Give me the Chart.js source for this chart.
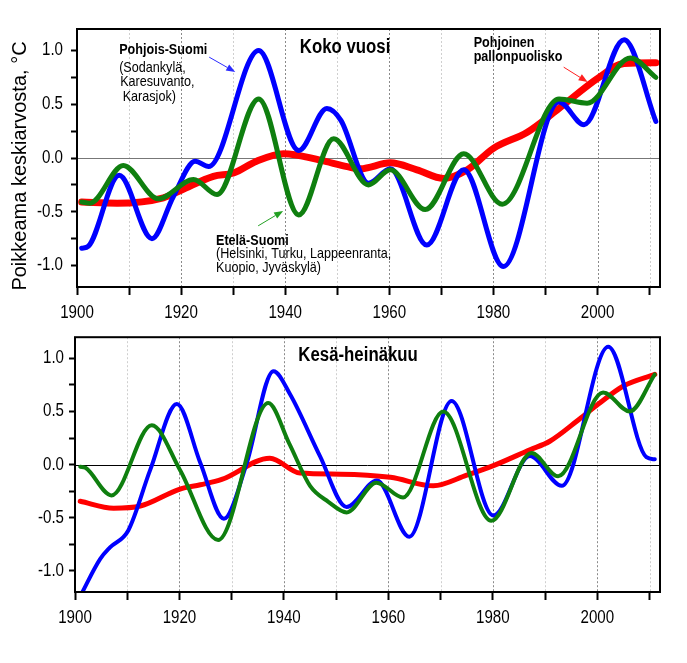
<!DOCTYPE html>
<html><head><meta charset="utf-8">
<script src="https://cdn.jsdelivr.net/npm/chart.js@4.4.1/dist/chart.umd.min.js"></script>
<style>
html,body{margin:0;padding:0;background:#fff;}
#wrap{position:relative;width:687px;height:663px;}
.panel{position:absolute;left:0;width:687px;}
#p1{top:0;height:320px;}
#p2{top:320px;height:343px;}
</style></head><body>
<div id="wrap">
<div class="panel" id="p1"><canvas id="c1" width="687" height="320"></canvas></div>
<div class="panel" id="p2"><canvas id="c2" width="687" height="343"></canvas></div>
</div>
<script>
// ---- tick definitions ----
const xTickYears = [1900,1910,1920,1930,1940,1950,1960,1970,1980,1990,2000,2010];
const xLabelYears = [1900,1920,1940,1960,1980,2000];
const yTickValues = [-1,-0.75,-0.5,-0.25,0,0.25,0.5,0.75,1];
const yLabelValues = [-1,-0.5,0,0.5,1];

// ---- Koko vuosi (annual) ----
const annualNorthYears  = [1900.9,1902.2,1908.1,1914.4,1918.5,1922.7,1925.3,1934.9,1942.6,1948.0,1950.7,1956.0,1960.2,1967.2,1974.3,1981.9,1992.6,1997.4,2005.1,2011.2];
const annualNorthValues = [-0.84,-0.82,-0.16,-0.75,-0.36,-0.03,-0.08,1.0,0.07,0.46,0.35,-0.235,-0.1,-0.81,-0.11,-1.01,0.52,0.31,1.1,0.34];

const annualSouthYears  = [1900.9,1902.5,1908.9,1915.6,1922.4,1926.9,1934.9,1942.6,1949.3,1956.0,1960.2,1966.9,1974.3,1981.7,1992.6,1998.0,2006.3,2011.2];
const annualSouthValues = [-0.41,-0.42,-0.07,-0.38,-0.2,-0.34,0.55,-0.53,0.18,-0.25,-0.11,-0.48,0.04,-0.43,0.55,0.51,0.93,0.75];

const annualNHYears  = [1900.9,1907.7,1916.6,1920.0,1926.2,1930.1,1934.5,1939.7,1946.7,1951.9,1954.4,1960.2,1965.3,1970.4,1975.0,1980.0,1986.5,1992.3,2000.3,2005.1,2011.2];
const annualNHValues = [-0.41,-0.42,-0.37,-0.3,-0.17,-0.14,-0.03,0.04,-0.02,-0.08,-0.1,-0.045,-0.11,-0.19,-0.11,0.09,0.24,0.45,0.75,0.88,0.885];

// ---- Kesä-heinäkuu (June-July) ----
const summerNorthYears  = [1901.0,1904.8,1906.7,1910.2,1914.4,1919.5,1924.0,1928.5,1932.8,1938.0,1941.2,1946.9,1952.0,1957.8,1964.0,1972.1,1980.1,1987.1,1993.2,2002.1,2009.4,2011.0];
const summerNorthValues = [-1.24,-0.89,-0.78,-0.62,-0.05,0.57,0.015,-0.51,0.0,0.88,0.66,0.08,-0.4,-0.15,-0.68,0.6,-0.48,0.08,-0.2,1.11,0.07,0.05];

const summerSouthYears  = [1901.0,1902.0,1907.0,1914.7,1920.1,1927.4,1937.0,1941.0,1945.0,1948.5,1952.0,1957.7,1962.8,1970.5,1979.7,1987.4,1992.5,2001.1,2006.2,2011.0];
const summerSouthValues = [-0.02,-0.03,-0.29,0.37,-0.05,-0.71,0.58,0.2,-0.2,-0.35,-0.45,-0.17,-0.31,0.5,-0.53,0.11,-0.11,0.68,0.5,0.85];

const summerNHYears  = [1901.0,1907.4,1912.5,1920.1,1924.0,1928.1,1937.3,1943.1,1950.8,1960.4,1968.6,1975.0,1980.1,1987.1,1990.9,1996.6,2000.2,2005.0,2011.0];
const summerNHValues = [-0.345,-0.41,-0.39,-0.23,-0.19,-0.14,0.06,-0.08,-0.09,-0.12,-0.2,-0.1,-0.01,0.14,0.22,0.43,0.57,0.74,0.85];

const FONT = "'Liberation Sans',Arial,sans-serif";
const SQUEEZE = 0.84;
const BLUE = '#0000ff', GREEN = '#0f7f0f', RED = '#ff0000';

function pts(xs, ys){ return xs.map((x,i)=>({x:x, y:ys[i]})); }

function narrowText(ctx, text, x, y, font, align){
  ctx.save();
  ctx.translate(x, y);
  ctx.scale(SQUEEZE, 1);
  ctx.font = font;
  ctx.textAlign = align;
  ctx.textBaseline = 'middle';
  ctx.fillStyle = '#000';
  ctx.fillText(text, 0, 0);
  ctx.restore();
}

const decor = {
  id:'decor',
  beforeDatasetsDraw(chart, args, o){
    const {ctx, chartArea:a, scales:{x,y}} = chart;
    ctx.save();
    ctx.lineWidth = 1;
    ctx.setLineDash([2,2]);
    xTickYears.forEach(v=>{
      if (v===1900) return;
      const px = Math.round(x.getPixelForValue(v))+0.5;
      ctx.strokeStyle = (v%20===0) ? '#8a8a8a' : '#cfcfcf';
      ctx.beginPath(); ctx.moveTo(px,a.top); ctx.lineTo(px,a.bottom); ctx.stroke();
    });
    ctx.setLineDash([]);
    ctx.strokeStyle = o.zeroColor;
    const py = Math.round(y.getPixelForValue(0))+0.5;
    ctx.beginPath(); ctx.moveTo(a.left,py); ctx.lineTo(a.right,py); ctx.stroke();
    ctx.restore();
  },
  afterDatasetsDraw(chart, args, o){
    const {ctx, chartArea:a, scales:{x,y}} = chart;
    ctx.save();
    ctx.strokeStyle = '#000'; ctx.lineWidth = 2;
    ctx.strokeRect(a.left, a.top, a.right-a.left, a.bottom-a.top);
    if (o.title){
      narrowText(ctx, o.title.text, x.getPixelForValue(o.title.x), y.getPixelForValue(o.title.y), "bold 20px " + FONT, 'center');
    }
    (o.notes||[]).forEach(n=>{
      narrowText(ctx, n.text, x.getPixelForValue(n.x), y.getPixelForValue(n.y), (n.bold?'bold ':'') + "15px " + FONT, 'left');
    });
    (o.arrows||[]).forEach(r=>{
      const x1=x.getPixelForValue(r.x1), y1=y.getPixelForValue(r.y1);
      const x2=x.getPixelForValue(r.x2), y2=y.getPixelForValue(r.y2);
      const ang = Math.atan2(y2-y1, x2-x1);
      const L=9, W=3.5;
      const bx = x2 - L*Math.cos(ang), by = y2 - L*Math.sin(ang);
      ctx.strokeStyle = r.color; ctx.fillStyle = r.color; ctx.lineWidth = 1;
      ctx.beginPath(); ctx.moveTo(x1,y1); ctx.lineTo(bx,by); ctx.stroke();
      ctx.beginPath();
      ctx.moveTo(x2,y2);
      ctx.lineTo(bx + W*Math.sin(ang), by - W*Math.cos(ang));
      ctx.lineTo(bx - W*Math.sin(ang), by + W*Math.cos(ang));
      ctx.closePath(); ctx.fill();
    });
    ctx.restore();
  },
  afterDraw(chart, args, o){
    const {ctx, chartArea:a, scales:{x,y}} = chart;
    xLabelYears.forEach(v=>{
      narrowText(ctx, String(v), x.getPixelForValue(v), a.bottom + o.xLabelOffset, "18px " + FONT, 'center');
    });
    yLabelValues.forEach(v=>{
      narrowText(ctx, v.toFixed(1), a.left - o.yLabelOffset, y.getPixelForValue(v), "18px " + FONT, 'right');
    });
    if (!o.yTitle) return;
    ctx.save();
    ctx.translate(o.yTitle.px, o.yTitle.py);
    ctx.rotate(-Math.PI/2);
    ctx.fillStyle = '#000';
    ctx.font = "20px " + FONT;
    ctx.textAlign = 'center'; ctx.textBaseline = 'middle';
    ctx.fillText(o.yTitle.text, 0, 0);
    ctx.restore();
  }
};

function makeChart(id, series, lw, layout, decorOpts){
  const ds = [
    {data: pts(series[0][0], series[0][1]), borderColor: GREEN, borderWidth: lw[0], order: 0},
    {data: pts(series[1][0], series[1][1]), borderColor: BLUE,  borderWidth: lw[1], order: 1},
    {data: pts(series[2][0], series[2][1]), borderColor: RED,   borderWidth: lw[2], order: 2}
  ].map(d=>Object.assign(d, {pointRadius:0, cubicInterpolationMode:'monotone', fill:false, clip:0, borderCapStyle:'round', borderJoinStyle:'round'}));
  return new Chart(document.getElementById(id), {
    type:'line',
    data:{datasets: ds},
    options:{
      responsive:false, animation:false, devicePixelRatio:1,
      layout:{padding:{top:layout.top, right:27, left:0, bottom:0}},
      plugins:{legend:{display:false}, tooltip:{enabled:false}, decor: decorOpts},
      scales:{
        x:{type:'linear', min:1900, max:2012,
          afterBuildTicks:s=>{ s.ticks = xTickYears.map(v=>({value:v})); },
          afterFit:s=>{ s.height = layout.xh; },
          border:{display:false},
          grid:{drawOnChartArea:false, drawTicks:true, tickLength:8, tickColor:'#000', tickWidth:2},
          ticks:{autoSkip:false, maxRotation:0, padding:6, color:'#000', font:{family:FONT, size:17},
            callback:()=>''}
        },
        y:{type:'linear', min:-1.2, max:1.2,
          afterBuildTicks:s=>{ s.ticks = yTickValues.map(v=>({value:v})); },
          afterFit:s=>{ s.width = layout.yw; },
          border:{display:false},
          grid:{drawOnChartArea:false, drawTicks:true, tickLength:6, tickColor:'#000', tickWidth:2},
          ticks:{autoSkip:false, padding:7, color:'#000', font:{family:FONT, size:17},
            callback:()=>''}
        }
      }
    },
    plugins:[decor]
  });
}

makeChart('c1',
  [[annualSouthYears, annualSouthValues],[annualNorthYears, annualNorthValues],[annualNHYears, annualNHValues]],
  [5,5,7], {top:29, xh:33, yw:77},
  {zeroColor:'#777', xLabelOffset:26, yLabelOffset:14,
   title:{text:'Koko vuosi', x:1951.5, y:1.03},
   yTitle:{text:'Poikkeama keskiarvosta, °C', px:20, py:166},
   notes:[
     {text:'Pohjois-Suomi', bold:true, x:1908.1, y:1.01},
     {text:'(Sodankylä,', x:1908.1, y:0.835},
     {text:'Karesuvanto,', x:1908.3, y:0.705},
     {text:' Karasjok)', x:1908.1, y:0.566},
     {text:'Etelä-Suomi', bold:true, x:1926.7, y:-0.768},
     {text:'(Helsinki, Turku, Lappeenranta,', x:1926.7, y:-0.894},
     {text:'Kuopio, Jyväskylä)', x:1926.7, y:-1.019},
     {text:'Pohjoinen', bold:true, x:1976.2, y:1.074},
     {text:'pallonpuolisko', bold:true, x:1976.2, y:0.94}
   ],
   arrows:[
     {x1:1925.4, y1:0.938, x2:1930.4, y2:0.80, color:'#2a2aff'},
     {x1:1934.8, y1:-0.631, x2:1939.6, y2:-0.492, color:'#22a022'},
     {x1:1993.5, y1:0.845, x2:1998.1, y2:0.706, color:'#ff2020'}
   ]});

makeChart('c2',
  [[summerSouthYears, summerSouthValues],[summerNorthYears, summerNorthValues],[summerNHYears, summerNHValues]],
  [4,4,5], {top:12, xh:71, yw:75},
  {zeroColor:'#000', xLabelOffset:26, yLabelOffset:11,
   title:{text:'Kesä-heinäkuu', x:1954.2, y:1.03}});
</script>
</body></html>
